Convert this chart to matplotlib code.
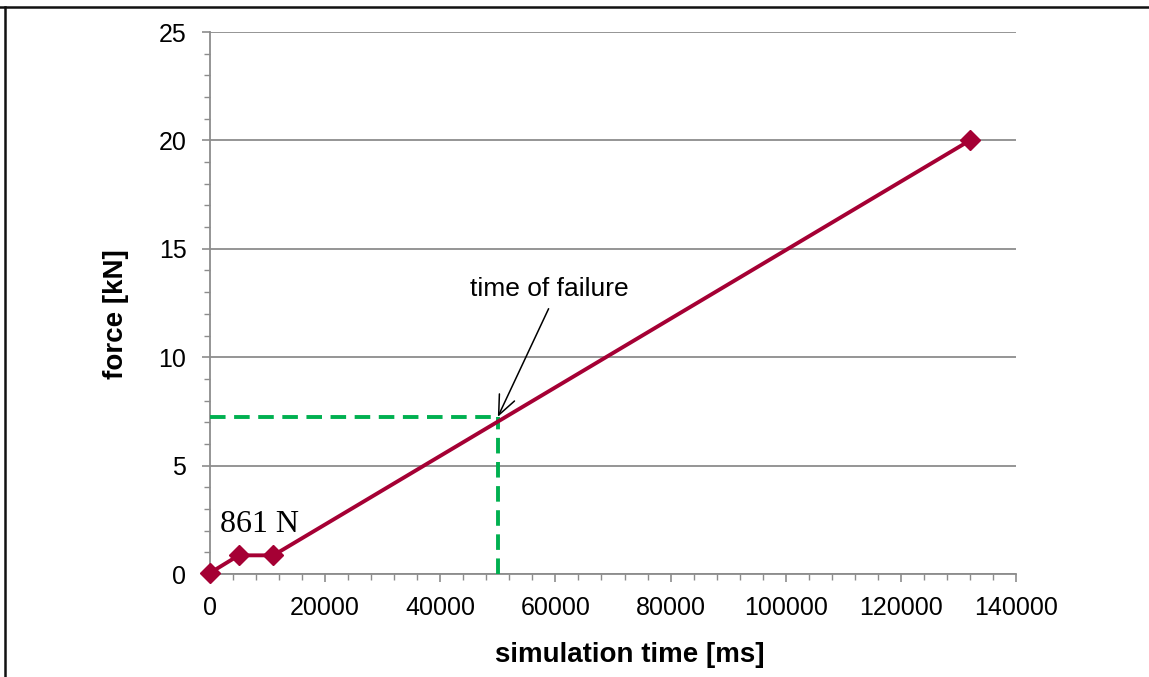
import matplotlib
matplotlib.use("Agg")
import matplotlib.pyplot as plt
from matplotlib.lines import Line2D
from matplotlib.ticker import MultipleLocator

# simulated force curve
time_ms = [0, 5000, 11000, 132000]
force_kn = [0.05, 0.861, 0.861, 20.0]

# failure point marked with dashed guides
fail_time = 50000
fail_force = 7.25

x_ticks = [0, 20000, 40000, 60000, 80000, 100000, 120000, 140000]
y_ticks = [0, 5, 10, 15, 20, 25]

LINE_RED = "#a50034"
GUIDE_GREEN = "#00b050"
GRID_GREY = "#8c8c8c"

plt.rcParams["font.family"] = ["Liberation Sans", "DejaVu Sans"]

fig = plt.figure(figsize=(11.49, 6.77), dpi=100)
ax = fig.add_axes([210 / 1149, 103 / 677, 806 / 1149, 542 / 677])

ax.plot(time_ms, force_kn, color=LINE_RED, lw=2.8, marker="D", ms=10,
        markerfacecolor=LINE_RED, markeredgecolor=LINE_RED, zorder=4,
        clip_on=False)

ax.plot([0, fail_time], [fail_force, fail_force], color=GUIDE_GREEN, lw=2.8,
        dashes=(4, 2.2), zorder=3)
ax.plot([fail_time, fail_time], [0, fail_force], color=GUIDE_GREEN, lw=2.8,
        dashes=(4, 2.2), zorder=3)

ax.set_xlim(0, 140000)
ax.set_ylim(0, 25)
ax.set_xticks(x_ticks)
ax.set_yticks(y_ticks)
ax.xaxis.set_minor_locator(MultipleLocator(4000))
ax.yaxis.set_minor_locator(MultipleLocator(1))

ax.grid(axis="y", which="major", color=GRID_GREY, lw=1.3)
ax.set_axisbelow(True)

for side in ["top", "right"]:
    ax.spines[side].set_visible(False)
for side in ["left", "bottom"]:
    ax.spines[side].set_color(GRID_GREY)
    ax.spines[side].set_linewidth(1.3)

ax.tick_params(which="major", length=6, width=1.2, color=GRID_GREY,
               labelsize=18, labelcolor="black")
ax.tick_params(axis="y", which="major", pad=11)
ax.tick_params(axis="x", which="major", pad=10)
ax.tick_params(which="minor", length=4.5, width=1.0, color=GRID_GREY)

ax.set_xlabel("simulation time [ms]", fontsize=20, fontweight="bold")
ax.xaxis.set_label_coords(0.521, -0.149)
ax.xaxis.label.set_va("center")
ax.set_ylabel("force [kN]", fontsize=20, fontweight="bold")
ax.yaxis.set_label_coords(-0.1166, 0.48)
ax.yaxis.label.set_va("center")

ax.text(1800, 2.3, "861 N", fontsize=23, family=["Liberation Serif", "DejaVu Serif"],
        ha="left", va="center")

ax.annotate("time of failure", xy=(fail_time, fail_force), xytext=(58900, 13.15),
            textcoords="data", ha="center", va="center", fontsize=19,
            arrowprops=dict(arrowstyle="->,head_length=0.7,head_width=0.3",
                            color="black", lw=1.1, relpos=(0.52, 0.0),
                            shrinkA=4, shrinkB=0, mutation_scale=20))

# outer frame (only top and left edges visible in the crop)
fig.add_artist(Line2D([0, 1], [1 - 7 / 677, 1 - 7 / 677], transform=fig.transFigure,
                      color="#111111", lw=1.8))
fig.add_artist(Line2D([5 / 1149, 5 / 1149], [0, 1 - 7 / 677], transform=fig.transFigure,
                      color="#111111", lw=1.8))

fig.savefig("out.png", dpi=100)
